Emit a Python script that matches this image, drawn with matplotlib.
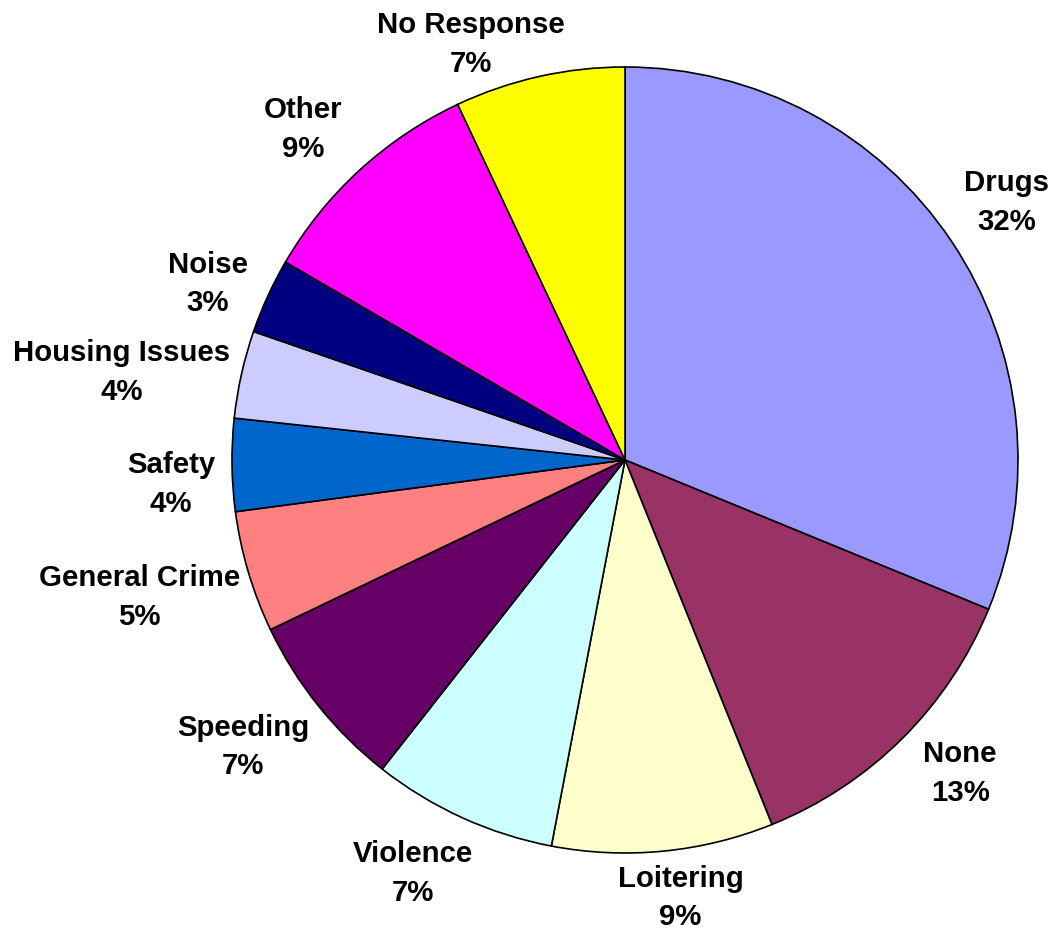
import numpy as np
import matplotlib.pyplot as plt

# survey answers, clockwise from 12 o'clock
categories = ["Drugs", "None", "Loitering", "Violence", "Speeding",
              "General Crime", "Safety", "Housing Issues", "Noise",
              "Other", "No Response"]
shares = [31.2, 12.7, 9.1, 7.6, 7.3, 5.0, 3.8, 3.6, 3.1, 9.6, 7.0]
pct_labels = [32, 13, 9, 7, 7, 5, 4, 4, 3, 9, 7]

colors = ["#9999FF", "#993366", "#FFFFCC", "#CCFFFF", "#660066",
          "#FF8080", "#0066CC", "#CCCCFF", "#000080", "#FF00FF", "#FFFF00"]
# label placement: distance in radii, and a small turn (deg, clockwise) off the slice middle
label_dist = [1.175, 1.164, 1.118, 1.177, 1.211, 1.283, 1.156, 1.30, 1.154, 1.178, 1.133]
label_turn = [-0.4, -2.3, -1.7, 2.8, 2.0, 1.0, -2.1, -2.5, -1.5, -1.5, -7.6]

W, H = 1054, 930
cx, cy, r = 625, 460, 393

fig = plt.figure(figsize=(W / 100, H / 100), dpi=100)
ax = fig.add_axes([0, 0, 1, 1])

wedges, _ = ax.pie(shares, colors=colors, startangle=90, counterclock=False,
                   wedgeprops=dict(edgecolor="black", linewidth=1.2))

for w, name, p, d, t in zip(wedges, categories, pct_labels, label_dist, label_turn):
    mid = np.deg2rad((w.theta1 + w.theta2) / 2 - t)
    ax.text(d * np.cos(mid), d * np.sin(mid) - 0.006, f"{name}\n{p}%",
            ha="center", va="center", fontsize=21.2, fontweight="bold",
            family=["Liberation Sans", "DejaVu Sans"], linespacing=1.48)

ax.set_xlim(-cx / r, (W - cx) / r)
ax.set_ylim(-(H - cy) / r, cy / r)
ax.set_aspect("equal")
ax.axis("off")

fig.savefig("out.png", dpi=100)
